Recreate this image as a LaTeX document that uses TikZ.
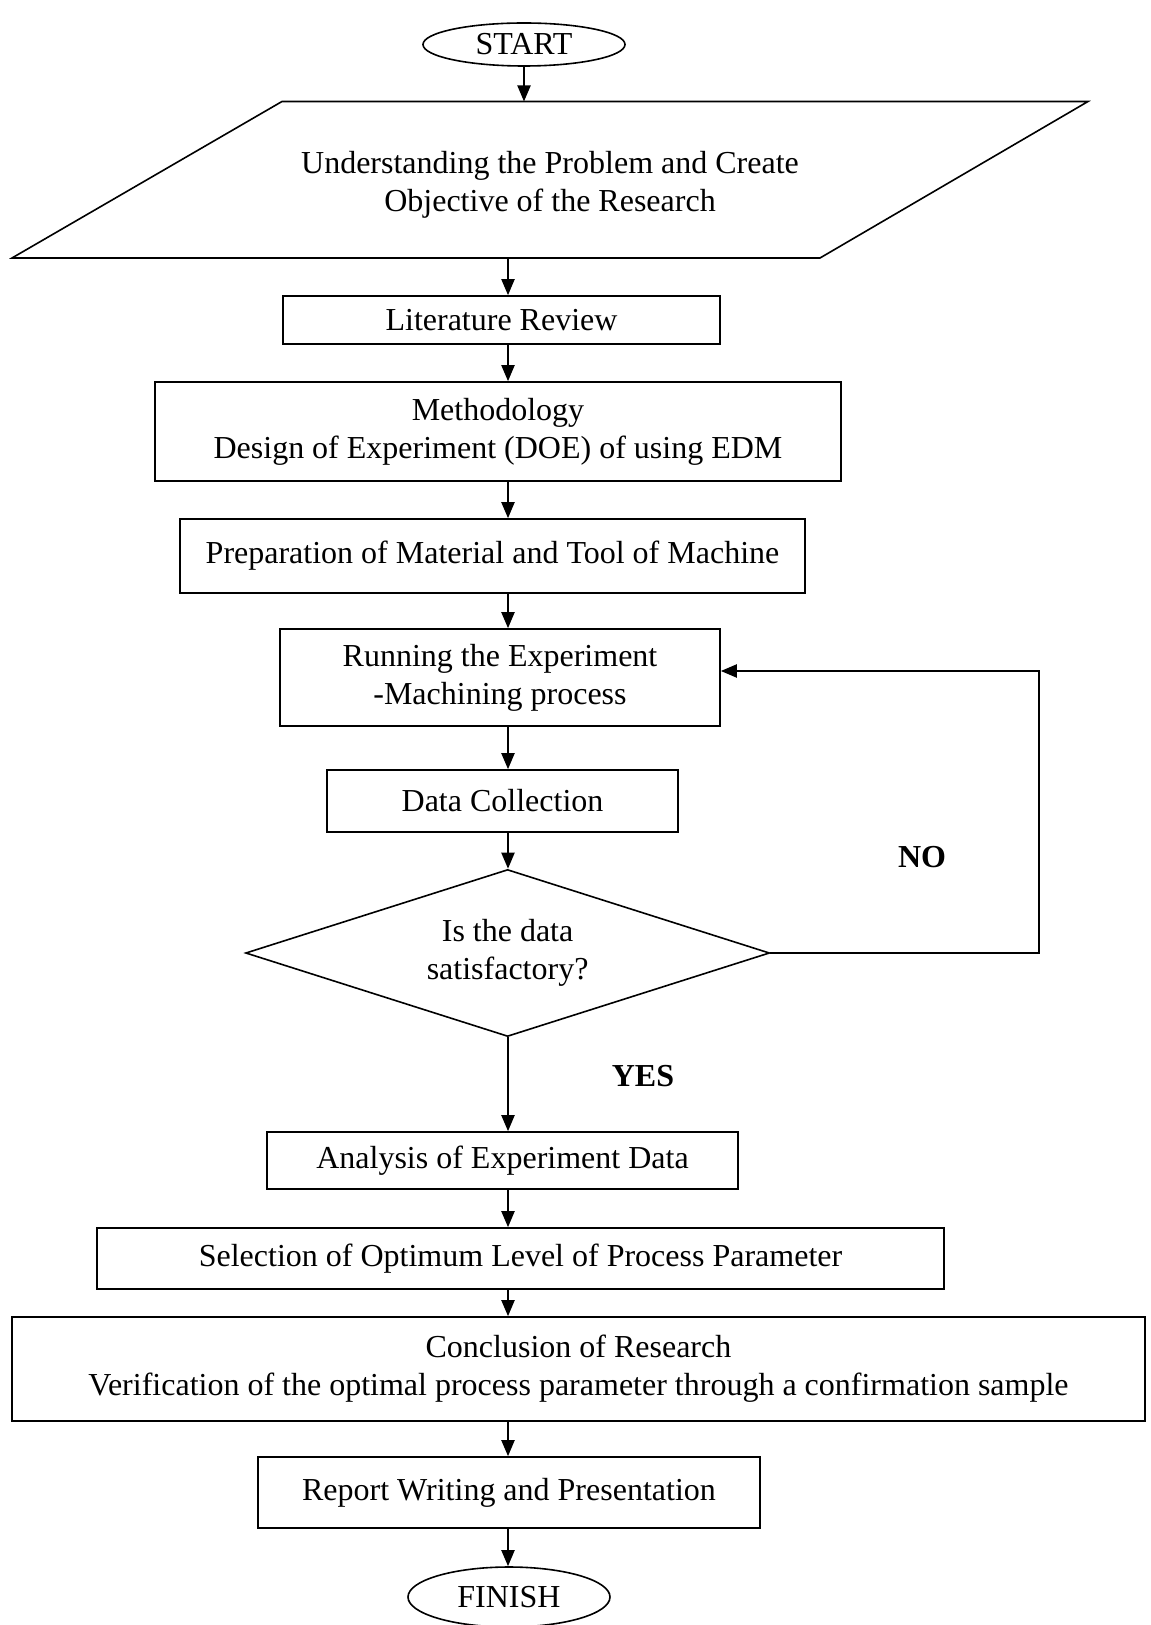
\documentclass[tikz,border=0pt]{standalone}
\usepackage{fontspec}
\setmainfont{Liberation Serif}
\usetikzlibrary{shapes.geometric,arrows.meta}

\begin{document}
\begin{tikzpicture}[x=0.5pt,y=-0.5pt,
    every node/.style={font=\fontsize{16}{19}\selectfont,align=center},
    box/.style={draw,line width=0.8pt,inner sep=0pt},
    term/.style={draw,ellipse,line width=0.8pt,inner sep=0pt,minimum width=101pt},
    arr/.style={-{Triangle[length=8pt,width=6.5pt]},line width=1pt}]
    \useasboundingbox (0,0) rectangle (1150,1625);
    \coordinate (spine) at (508,0);
    \node[term,minimum height=21.5pt] (start) at (524,44.5) {START};
    \draw[line width=0.8pt] (282,101.5) -- (1088,101.5) -- (820,258) -- (12,258) -- cycle;
    \coordinate (objtop) at (524,101.5);
    \coordinate (objbot) at (508,258);
    \node (obj) at (550,185) {Understanding the Problem and Create\\Objective of the Research};
    \node[box,minimum width=218.5pt,minimum height=24pt] (lit) at (501.5,320) {Literature Review};
    \node[box,minimum width=343pt,minimum height=49.5pt] (meth) at (498,431.5) {Methodology\\Design of Experiment (DOE) of using EDM};
    \node[box,minimum width=312.5pt,minimum height=37pt] (prep) at (492.5,556) {Preparation of Material and Tool of Machine};
    \node[box,minimum width=220pt,minimum height=48.5pt] (run) at (500,677.5) {Running the Experiment\\-Machining process};
    \node[box,minimum width=175.5pt,minimum height=31pt] (data) at (502.5,801) {Data Collection};
    \node[box,diamond,aspect=3.14,minimum width=262pt,minimum height=83.5pt] (dec) at (507.6,953) {Is the data\\satisfactory?};
    \node[box,minimum width=235.5pt,minimum height=28.5pt] (ana) at (502.5,1160.5) {Analysis of Experiment Data};
    \node[box,minimum width=423.5pt,minimum height=30.5pt] (sel) at (520.5,1258.5) {Selection of Optimum Level of Process Parameter};
    \node[box,minimum width=566.5pt,minimum height=52pt] (conc) at (578.5,1369) {Conclusion of Research\\Verification of the optimal process parameter through a confirmation sample};
    \node[box,minimum width=251pt,minimum height=35.5pt] (rep) at (509,1492.5) {Report Writing and Presentation};
    \node[term,minimum height=30pt] (finish) at (509,1597) {FINISH};
    \node (no) at (922,857) {\textbf{NO}};
    \node (yes) at (643,1076) {\textbf{YES}};
    \coordinate (back) at (1039,671);

    \draw[arr] (start.south) -- (objtop);
    \draw[arr] (objbot) -- (lit.north -| spine);
    \draw[arr] (lit.south -| spine) -- (meth.north -| spine);
    \draw[arr] (meth.south -| spine) -- (prep.north -| spine);
    \draw[arr] (prep.south -| spine) -- (run.north -| spine);
    \draw[arr] (run.south -| spine) -- (data.north -| spine);
    \draw[arr] (data.south -| spine) -- (dec.north -| spine);
    \draw[arr] (dec.south -| spine) -- (ana.north -| spine);
    \draw[arr] (ana.south -| spine) -- (sel.north -| spine);
    \draw[arr] (sel.south -| spine) -- (conc.north -| spine);
    \draw[arr] (conc.south -| spine) -- (rep.north -| spine);
    \draw[arr] (rep.south -| spine) -- (finish.north -| spine);
    \draw[arr] (dec.east) -| (back) -- (run.east |- back);
\end{tikzpicture}
\end{document}
